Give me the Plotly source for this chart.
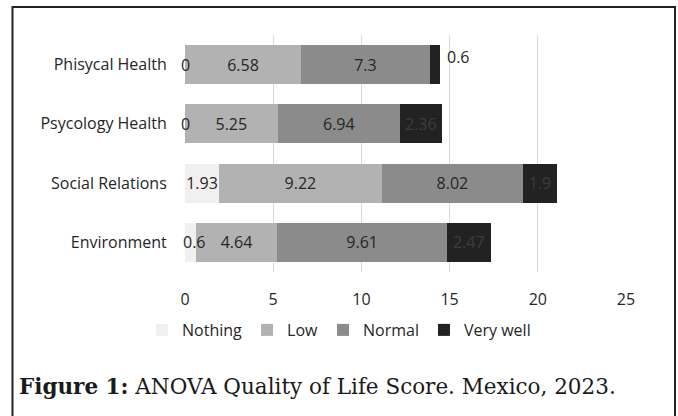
import plotly.graph_objects as go

categories = ["Phisycal Health", "Psycology Health", "Social Relations", "Environment"]
series_names = ["Nothing", "Low", "Normal", "Very well"]
nothing = [0, 0, 1.93, 0.6]
low = [6.58, 5.25, 9.22, 4.64]
normal = [7.3, 6.94, 8.02, 9.61]
very_well = [0.6, 2.36, 1.9, 2.47]
x_ticks = [0, 5, 10, 15, 20, 25]

colors = ["#f0f0f0", "#b2b2b2", "#8b8b8b", "#222222"]
text_colors = ["#262626", "#262626", "#262626", "#3c3c3c"]
series = [nothing, low, normal, very_well]

FONT = "Open Sans"
FS = 16
SMALL = 1.0  # segments narrower than this get labels outside the bar

fig = go.Figure()
for name, vals, col, tcol in zip(series_names, series, colors, text_colors):
    txt = [f"{v:g}" if v >= SMALL else "" for v in vals]
    fig.add_trace(go.Bar(
        y=categories, x=vals, name=name, orientation="h",
        marker=dict(color=col, line=dict(width=0)),
        text=txt, textposition="inside", insidetextanchor="middle",
        textangle=0, constraintext="none",
        textfont=dict(family=FONT, size=FS, color=tcol),
        hoverinfo="skip",
    ))

annotations = []
# small first-segment labels (centered on segment)
for cat, v in zip(categories, nothing):
    if v < SMALL:
        annotations.append(dict(x=v / 2, y=cat, xref="x", yref="y", text=f"{v:g}",
                                showarrow=False, xanchor="center", xshift=4 if v > 0 else 0,
                                font=dict(family=FONT, size=FS, color="#262626")))
# small last-segment labels (outside, to the right)
for i, (cat, v) in enumerate(zip(categories, very_well)):
    if v < SMALL:
        total = nothing[i] + low[i] + normal[i] + very_well[i]
        annotations.append(dict(x=total, y=cat, xref="x", yref="y", text=f"{v:g}",
                                showarrow=False, xanchor="left", xshift=5, yshift=8,
                                font=dict(family=FONT, size=FS, color="#262626")))

def px2x(p):
    return (p - 185) / 441

def py2y(p):
    return (272 - p) / 237

# caption
annotations.append(dict(
    xref="paper", yref="paper", x=px2x(17), y=py2y(386),
    xanchor="left", yanchor="middle", showarrow=False,
    text="<b>Figure 1:</b> ANOVA Quality of Life Score. Mexico, 2023.",
    font=dict(family="DejaVu Serif", size=21.5, color="#1a1a1a"),
))

xl, xr, yt, yb = px2x(12.5), px2x(675), py2y(7), py2y(425)
shapes = [
    dict(type="path", xref="paper", yref="paper",
         path=f"M {xl},{yb} L {xl},{yt} L {xr},{yt} L {xr},{yb}",
         line=dict(color="#222222", width=2), fillcolor="rgba(0,0,0,0)"),
]

fig.update_layout(
    width=678, height=416,
    barmode="stack", bargap=0.34,
    margin=dict(l=185, r=52, t=35, b=144, autoexpand=False),
    paper_bgcolor="white", plot_bgcolor="white",
    font=dict(family=FONT, size=FS, color="#262626"),
    showlegend=True,
    legend=dict(orientation="h", xref="container", x=0.5, xanchor="center",
                yref="paper", y=py2y(330), yanchor="middle",
                font=dict(family=FONT, size=FS, color="#262626"),
                itemwidth=30, traceorder="normal"),
    annotations=annotations,
    shapes=shapes,
)
fig.update_xaxes(range=[0, 25], tickvals=x_ticks, showgrid=True, gridcolor="#d9d9d9",
                 gridwidth=1, zeroline=False, showline=False, tickangle=0,
                 ticks="outside", ticklen=13, tickcolor="rgba(0,0,0,0)",
                 tickfont=dict(family=FONT, size=FS, color="#262626"))
fig.update_yaxes(categoryorder="array", categoryarray=categories, autorange="reversed",
                 showgrid=False, zeroline=False, showline=False,
                 ticks="outside", ticklen=14, tickcolor="rgba(0,0,0,0)",
                 tickfont=dict(family=FONT, size=FS, color="#262626"))

fig.write_html("out.html", config={"displayModeBar": False},
               post_script="document.body.style.margin='0';")
